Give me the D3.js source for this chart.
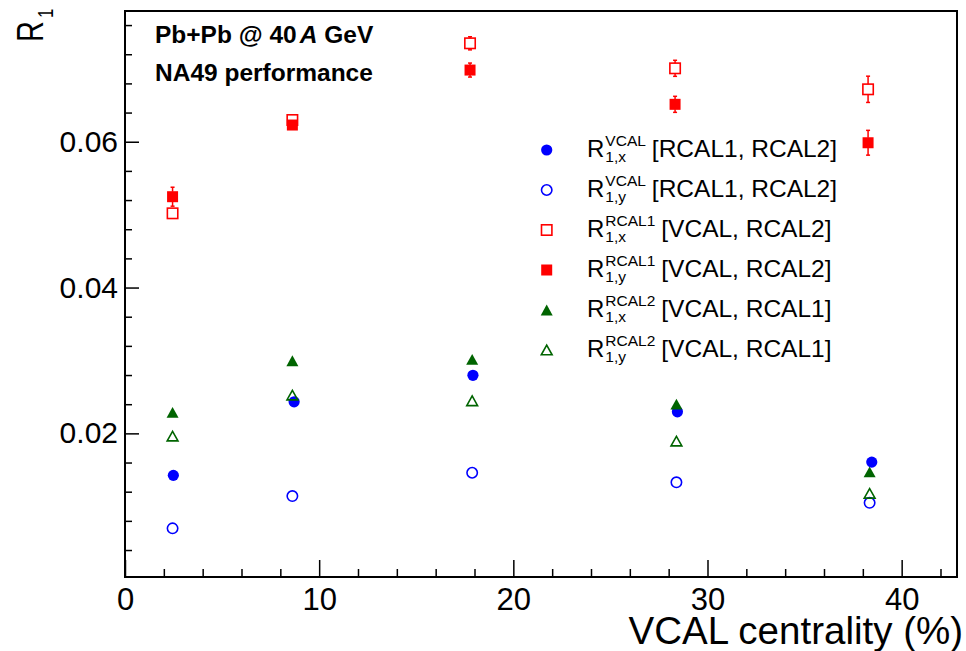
<!DOCTYPE html>
<html>
<head>
<meta charset="utf-8">
<script src="https://cdn.jsdelivr.net/npm/d3@7"></script>
<style>
  body { margin: 0; background: #fff; }
  text { font-family: "Liberation Sans", Arial, Helvetica, sans-serif; fill: #000; }
</style>
</head>
<body>
<div id="chart"></div>
<script>
// chart size and frame
var svgWidth = 966;
var svgHeight = 651;

var frame = { left: 125, top: 11, right: 957, bottom: 577 };

// centrality bins (x values)
var centrality = [2.45, 8.62, 17.88, 28.4, 38.35];
var centralityVcalX = [2.49, 8.71, 17.92, 28.45, 38.46];
var centralityRcal1 = [2.45, 8.62, 17.77, 28.33, 38.27];

// R1 values
var vcalX = [0.01424, 0.02433, 0.02796, 0.02296, 0.01606];
var vcalY = [0.00697, 0.0114, 0.0146, 0.01328, 0.01048];
var rcal1X = [0.05018, 0.06298, 0.0735, 0.07007, 0.06719];
var rcal1XErr = [0.0008, 0.0004, 0.0009, 0.0011, 0.0018];
var rcal1Y = [0.05246, 0.06229, 0.06983, 0.06513, 0.05986];
var rcal1YErr = [0.0013, 0.0004, 0.00096, 0.0011, 0.0017];
var rcal2X = [0.02288, 0.02996, 0.03015, 0.02402, 0.01473];
var rcal2Y = [0.01963, 0.02525, 0.02447, 0.01894, 0.01177];

// tick values
var xMajorTicks = [0, 10, 20, 30, 40];
var yMajorTicks = [0.02, 0.04, 0.06];

// legend entries: sup, sub, rest
var legendSup = ["VCAL", "VCAL", "RCAL1", "RCAL1", "RCAL2", "RCAL2"];
var legendSub = ["1,x", "1,y", "1,x", "1,y", "1,x", "1,y"];
var legendRest = ["[RCAL1, RCAL2]", "[RCAL1, RCAL2]", "[VCAL, RCAL2]", "[VCAL, RCAL2]", "[VCAL, RCAL1]", "[VCAL, RCAL1]"];

var blue = "#0000ff", red = "#ff0000", green = "#006400";

// series list, same order as the legend
var series = [
  { x: centralityVcalX, y: vcalX, err: null, shape: "circle", filled: true, color: blue },
  { x: centrality, y: vcalY, err: null, shape: "circle", filled: false, color: blue },
  { x: centralityRcal1, y: rcal1X, err: rcal1XErr, shape: "square", filled: false, color: red },
  { x: centralityRcal1, y: rcal1Y, err: rcal1YErr, shape: "square", filled: true, color: red },
  { x: centrality, y: rcal2X, err: null, shape: "triangle", filled: true, color: green },
  { x: centrality, y: rcal2Y, err: null, shape: "triangle", filled: false, color: green }
];

var svg = d3.select("#chart")
  .append("svg")
  .attr("width", svgWidth)
  .attr("height", svgHeight);

// scales
var xScale = d3.scaleLinear()
  .domain([0, 42.85])
  .range([frame.left, frame.right]);

var yScale = d3.scaleLinear()
  .domain([0.0003, 0.07793])
  .range([frame.bottom, frame.top]);

// minor ticks
var xMinor = d3.range(0, 43, 2).filter(d => d % 10 !== 0);
var yMinor = d3.range(1, 20).map(d => d * 0.004).filter(d => Math.abs(d / 0.02 - Math.round(d / 0.02)) > 1e-6);

// x axis, ticks pointing into the frame
var xAxis = svg.append("g")
  .attr("transform", `translate(0, ${frame.bottom})`)
  .call(d3.axisBottom(xScale).tickValues(xMajorTicks).tickSize(-17).tickPadding(11).tickFormat(d3.format("d")));

svg.append("g")
  .attr("transform", `translate(0, ${frame.bottom})`)
  .call(d3.axisBottom(xScale).tickValues(xMinor).tickSize(-8).tickFormat(""));

// y axis
var yAxis = svg.append("g")
  .attr("transform", `translate(${frame.left}, 0)`)
  .call(d3.axisLeft(yScale).tickValues(yMajorTicks).tickSize(-14).tickPadding(7).tickFormat(d3.format(".2f")));

svg.append("g")
  .attr("transform", `translate(${frame.left}, 0)`)
  .call(d3.axisLeft(yScale).tickValues(yMinor).tickSize(-7).tickFormat(""));

svg.selectAll(".domain").remove();
svg.selectAll(".tick line").attr("stroke", "#000").attr("stroke-width", 1.5);
xAxis.selectAll("text").style("font-size", "31px");
yAxis.selectAll("text").style("font-size", "30px");

// frame
svg.append("rect")
  .attr("x", frame.left)
  .attr("y", frame.top)
  .attr("width", frame.right - frame.left)
  .attr("height", frame.bottom - frame.top)
  .attr("fill", "none")
  .attr("stroke", "#000")
  .attr("stroke-width", 2);

// marker drawing helper
function drawMarker(g, shape, filled, color, cx, cy) {
  var fill = filled ? color : "none";
  var sw = filled ? 0 : 1.6;
  if (shape === "circle") {
    g.append("circle")
      .attr("cx", cx).attr("cy", cy)
      .attr("r", filled ? 5.6 : 5.2)
      .attr("fill", fill).attr("stroke", color).attr("stroke-width", sw);
  } else if (shape === "square") {
    var h = filled ? 5.5 : 5.2;
    g.append("rect")
      .attr("x", cx - h).attr("y", cy - h)
      .attr("width", 2 * h).attr("height", 2 * h)
      .attr("fill", fill).attr("stroke", color).attr("stroke-width", sw);
  } else {
    var w = filled ? 6 : 5.4;
    var t = filled ? 5.4 : 4.8;
    g.append("path")
      .attr("d", `M${cx - w},${cy + t}L${cx + w},${cy + t}L${cx},${cy - t}Z`)
      .attr("fill", fill).attr("stroke", color).attr("stroke-width", sw)
      .attr("stroke-linejoin", "miter");
  }
}

// data points with error bars
var pointsGroup = svg.append("g");
series.forEach(function(s) {
  s.y.forEach(function(v, i) {
    var cx = xScale(s.x[i]);
    var cy = yScale(v);
    if (s.err) {
      var top = yScale(v + s.err[i]);
      var bot = yScale(v - s.err[i]);
      if (cy - top > 6) {
        pointsGroup.append("line").attr("x1", cx).attr("x2", cx).attr("y1", top).attr("y2", cy - 5)
          .attr("stroke", s.color).attr("stroke-width", 1.5);
        pointsGroup.append("line").attr("x1", cx - 2).attr("x2", cx + 2).attr("y1", top).attr("y2", top)
          .attr("stroke", s.color).attr("stroke-width", 1.5);
        pointsGroup.append("line").attr("x1", cx).attr("x2", cx).attr("y1", cy + 5).attr("y2", bot)
          .attr("stroke", s.color).attr("stroke-width", 1.5);
        pointsGroup.append("line").attr("x1", cx - 2).attr("x2", cx + 2).attr("y1", bot).attr("y2", bot)
          .attr("stroke", s.color).attr("stroke-width", 1.5);
      }
    }
    drawMarker(pointsGroup, s.shape, s.filled, s.color, cx, cy);
  });
});

// header text
var header1 = svg.append("text")
  .attr("x", 155).attr("y", 43)
  .style("font-size", "24.5px").style("font-weight", "bold");
header1.append("tspan").text("Pb+Pb @ 40");
header1.append("tspan").attr("dx", 3).style("font-style", "italic").text("A");
header1.append("tspan").text(" GeV");

svg.append("text")
  .attr("x", 155).attr("y", 81)
  .style("font-size", "24.5px").style("font-weight", "bold")
  .text("NA49 performance");

// axis titles
svg.append("text")
  .attr("x", 963).attr("y", 644)
  .attr("text-anchor", "end")
  .style("font-size", "38.5px")
  .text("VCAL centrality (%)");

var yTitle = svg.append("text")
  .attr("transform", "translate(43, 42) rotate(-90) scale(1, 1.28)")
  .style("font-size", "29px");
yTitle.append("tspan").text("R");
yTitle.append("tspan").attr("dx", 3).attr("dy", 8).style("font-size", "17px").text("1");

// legend
var legend = svg.append("g");
var legendX = 546.7, textX = 587;
series.forEach(function(s, i) {
  var ly = 150 + i * 40;
  drawMarker(legend, s.shape, s.filled, s.color, legendX, ly);

  var r = legend.append("text").attr("x", textX).attr("y", ly + 7)
    .style("font-size", "24px").text("R");
  var rw = r.node().getComputedTextLength();

  var sup = legend.append("text").attr("x", textX + rw + 1).attr("y", ly - 4)
    .style("font-size", "15.5px").text(legendSup[i]);
  var sub = legend.append("text").attr("x", textX + rw + 1).attr("y", ly + 12)
    .style("font-size", "15.5px").text(legendSub[i]);
  var sw = Math.max(sup.node().getComputedTextLength(), sub.node().getComputedTextLength());

  legend.append("text").attr("x", textX + rw + 1 + sw + 6).attr("y", ly + 7)
    .style("font-size", "24.5px").text(legendRest[i]);
});
</script>
</body>
</html>
